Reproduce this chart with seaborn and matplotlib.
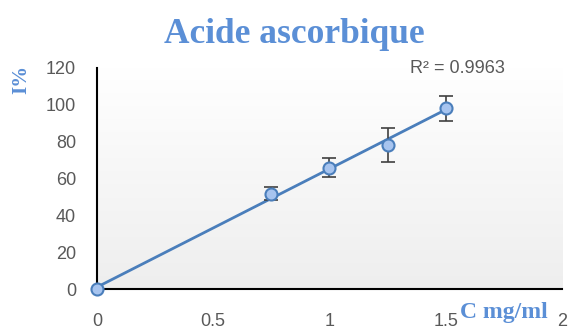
import numpy as np
import pandas as pd
import matplotlib
matplotlib.use("Agg")
import matplotlib.pyplot as plt
import seaborn as sns

# concentrations (mg/ml) et inhibition (%)
conc = [0, 0.75, 1.0, 1.25, 1.5]
inhib = [0, 51.8, 65.8, 78.2, 98.2]
err = [0, 3.6, 5.1, 9.2, 6.8]
r2_text = "R² = 0.9963"

df = pd.DataFrame({"C": conc, "I": inhib, "err": err})

sns.set_style("white")
plt.rcParams['font.family'] = ['Liberation Sans', 'DejaVu Sans']

fig = plt.figure(figsize=(5.7, 3.32), dpi=100)
ax = fig.add_axes([0.170, 0.1295, 0.816, 0.666])

# fond en dégradé
grad = np.linspace(1, 0, 256).reshape(-1, 1)
ax.imshow(grad, extent=[0, 2, 0, 120], aspect='auto', cmap=plt.cm.colors.LinearSegmentedColormap.from_list(
    "g", ["#eeeeee", "#ffffff"]), vmin=0, vmax=1, zorder=0)

# courbe de tendance linéaire
p = np.polyfit(df["C"], df["I"], 1)
xs = np.array([0, 1.5])
ax.plot(xs, np.polyval(p, xs), color="#4a7ebb", lw=2, zorder=2)

ax.errorbar(df["C"], df["I"], yerr=df["err"], fmt='none', ecolor="#404040",
            elinewidth=1.2, capsize=5, capthick=1.2, zorder=3)
sns.scatterplot(data=df, x="C", y="I", ax=ax, s=75, color="#a7c4ef",
                edgecolor="#4a7ebb", linewidth=1.5, zorder=4, clip_on=False)

ax.set_xlim(0, 2)
ax.set_ylim(0, 120)
ax.set_xticks([0, 0.5, 1, 1.5, 2])
ax.set_xticklabels(["0", "0.5", "1", "1.5", "2"])
ax.set_yticks(range(0, 121, 20))
ax.tick_params(axis='both', length=0, labelsize=13, labelcolor="#595959")
ax.tick_params(axis='x', pad=17)
ax.tick_params(axis='y', pad=15)
ax.set_xlabel("")
ax.set_ylabel("")
for s in ["top", "right"]:
    ax.spines[s].set_visible(False)
for s in ["left", "bottom"]:
    ax.spines[s].set_color("black")
    ax.spines[s].set_linewidth(1.5)

blue = "#5b8fd6"
fig.text(0.517, 0.895, "Acide ascorbique", ha='center', va='center', fontsize=25.5,
         fontweight='bold', color=blue, family=['Liberation Serif'])
fig.text(0.038, 0.762, "I%", ha='center', va='center', rotation=90, fontsize=15,
         fontweight='bold', color=blue, family=['Liberation Serif'])
fig.text(0.807, 0.042, "C mg/ml", ha='left', va='baseline', fontsize=17,
         fontweight='bold', color=blue, family=['Liberation Serif'])
fig.text(0.802, 0.794, r2_text, ha='center', va='center', fontsize=13, color="#595959")

fig.savefig("out.png", dpi=100)
